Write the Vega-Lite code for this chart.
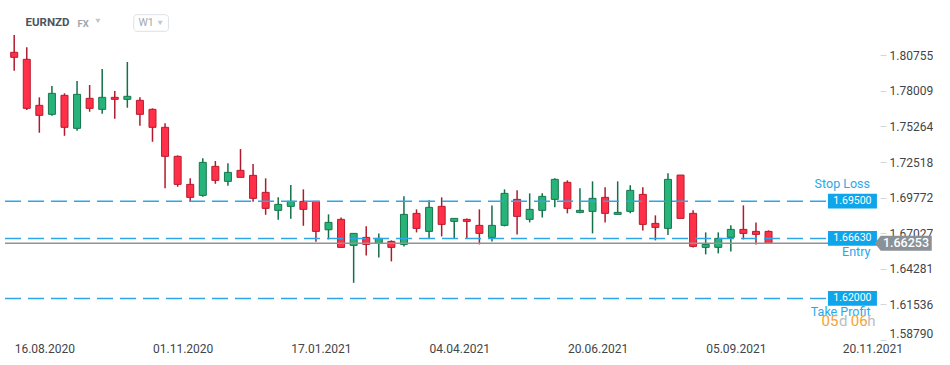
{
  "$schema": "https://vega.github.io/schema/vega-lite/v6.json",
  "width": 880,
  "height": 340,
  "padding": 0,
  "background": "white",
  "config": {"view": {"stroke": null}, "font": "Roboto"},
  "datasets": {
    "candles": [
      {"date": "2020-08-16", "open": 1.80987, "high": 1.82322, "low": 1.79566, "close": 1.80601},
      {"date": "2020-08-23", "open": 1.80446, "high": 1.81373, "low": 1.76533, "close": 1.76664},
      {"date": "2020-08-30", "open": 1.76896, "high": 1.77513, "low": 1.74781, "close": 1.76124},
      {"date": "2020-09-06", "open": 1.76201, "high": 1.78385, "low": 1.76093, "close": 1.77822},
      {"date": "2020-09-13", "open": 1.77668, "high": 1.77822, "low": 1.74549, "close": 1.75198},
      {"date": "2020-09-20", "open": 1.75121, "high": 1.78771, "low": 1.74935, "close": 1.77745},
      {"date": "2020-09-27", "open": 1.77436, "high": 1.78463, "low": 1.76402, "close": 1.76664},
      {"date": "2020-10-04", "open": 1.76587, "high": 1.79698, "low": 1.76248, "close": 1.77513},
      {"date": "2020-10-11", "open": 1.77513, "high": 1.78000, "low": 1.75862, "close": 1.77359},
      {"date": "2020-10-18", "open": 1.77359, "high": 1.80238, "low": 1.76711, "close": 1.77591},
      {"date": "2020-10-25", "open": 1.77282, "high": 1.77513, "low": 1.75321, "close": 1.76201},
      {"date": "2020-11-01", "open": 1.76587, "high": 1.76664, "low": 1.74086, "close": 1.75198},
      {"date": "2020-11-08", "open": 1.75198, "high": 1.75507, "low": 1.70490, "close": 1.72960},
      {"date": "2020-11-15", "open": 1.72960, "high": 1.73037, "low": 1.70613, "close": 1.70798},
      {"date": "2020-11-22", "open": 1.70798, "high": 1.71261, "low": 1.69455, "close": 1.69795},
      {"date": "2020-11-29", "open": 1.69949, "high": 1.72805, "low": 1.69841, "close": 1.72496},
      {"date": "2020-12-06", "open": 1.72188, "high": 1.72597, "low": 1.70845, "close": 1.71107},
      {"date": "2020-12-13", "open": 1.71030, "high": 1.72419, "low": 1.70690, "close": 1.71725},
      {"date": "2020-12-20", "open": 1.71879, "high": 1.73523, "low": 1.71339, "close": 1.71339},
      {"date": "2020-12-27", "open": 1.71493, "high": 1.72365, "low": 1.69455, "close": 1.69718},
      {"date": "2021-01-03", "open": 1.70181, "high": 1.71261, "low": 1.68452, "close": 1.68946},
      {"date": "2021-01-10", "open": 1.68792, "high": 1.69795, "low": 1.68066, "close": 1.69255},
      {"date": "2021-01-17", "open": 1.69100, "high": 1.70744, "low": 1.68143, "close": 1.69486},
      {"date": "2021-01-24", "open": 1.69486, "high": 1.70412, "low": 1.67603, "close": 1.68869},
      {"date": "2021-01-31", "open": 1.69486, "high": 1.69486, "low": 1.66368, "close": 1.67171},
      {"date": "2021-02-07", "open": 1.67294, "high": 1.68483, "low": 1.66553, "close": 1.67865},
      {"date": "2021-02-14", "open": 1.68097, "high": 1.68251, "low": 1.65936, "close": 1.65936},
      {"date": "2021-02-21", "open": 1.66090, "high": 1.67016, "low": 1.63203, "close": 1.67016},
      {"date": "2021-02-28", "open": 1.66708, "high": 1.67557, "low": 1.65318, "close": 1.66167},
      {"date": "2021-03-07", "open": 1.66244, "high": 1.67016, "low": 1.65164, "close": 1.66630},
      {"date": "2021-03-14", "open": 1.66399, "high": 1.66476, "low": 1.64855, "close": 1.65936},
      {"date": "2021-03-21", "open": 1.66167, "high": 1.69872, "low": 1.66013, "close": 1.68483},
      {"date": "2021-03-28", "open": 1.68560, "high": 1.68869, "low": 1.67093, "close": 1.67402},
      {"date": "2021-04-04", "open": 1.67171, "high": 1.69563, "low": 1.66630, "close": 1.69023},
      {"date": "2021-04-11", "open": 1.69100, "high": 1.69795, "low": 1.66785, "close": 1.67711},
      {"date": "2021-04-18", "open": 1.67942, "high": 1.68174, "low": 1.66630, "close": 1.68174},
      {"date": "2021-04-25", "open": 1.68097, "high": 1.68174, "low": 1.66630, "close": 1.67942},
      {"date": "2021-05-02", "open": 1.67634, "high": 1.68869, "low": 1.66167, "close": 1.67016},
      {"date": "2021-05-09", "open": 1.66708, "high": 1.69177, "low": 1.66399, "close": 1.67634},
      {"date": "2021-05-16", "open": 1.67634, "high": 1.70412, "low": 1.67557, "close": 1.70104},
      {"date": "2021-05-23", "open": 1.69641, "high": 1.70335, "low": 1.66939, "close": 1.68328},
      {"date": "2021-05-30", "open": 1.68097, "high": 1.70104, "low": 1.67865, "close": 1.68869},
      {"date": "2021-06-06", "open": 1.68792, "high": 1.70104, "low": 1.68251, "close": 1.69872},
      {"date": "2021-06-13", "open": 1.69641, "high": 1.71261, "low": 1.69023, "close": 1.71184},
      {"date": "2021-06-20", "open": 1.70953, "high": 1.71107, "low": 1.68560, "close": 1.68946},
      {"date": "2021-06-27", "open": 1.68637, "high": 1.70490, "low": 1.68560, "close": 1.68792},
      {"date": "2021-07-04", "open": 1.68714, "high": 1.71030, "low": 1.67016, "close": 1.69718},
      {"date": "2021-07-11", "open": 1.69795, "high": 1.70567, "low": 1.67865, "close": 1.68560},
      {"date": "2021-07-18", "open": 1.68483, "high": 1.71030, "low": 1.68483, "close": 1.68637},
      {"date": "2021-07-25", "open": 1.68714, "high": 1.70721, "low": 1.68560, "close": 1.70335},
      {"date": "2021-08-01", "open": 1.70027, "high": 1.70567, "low": 1.67248, "close": 1.67711},
      {"date": "2021-08-08", "open": 1.67788, "high": 1.68406, "low": 1.66476, "close": 1.67479},
      {"date": "2021-08-15", "open": 1.67402, "high": 1.71647, "low": 1.66885, "close": 1.71184},
      {"date": "2021-08-22", "open": 1.71516, "high": 1.71516, "low": 1.68174, "close": 1.68174},
      {"date": "2021-08-29", "open": 1.68560, "high": 1.68792, "low": 1.65936, "close": 1.66013},
      {"date": "2021-09-05", "open": 1.65936, "high": 1.67093, "low": 1.65395, "close": 1.66167},
      {"date": "2021-09-12", "open": 1.65936, "high": 1.67093, "low": 1.65473, "close": 1.66630},
      {"date": "2021-09-19", "open": 1.66708, "high": 1.67634, "low": 1.65627, "close": 1.67325},
      {"date": "2021-09-26", "open": 1.67325, "high": 1.69177, "low": 1.66553, "close": 1.67016},
      {"date": "2021-10-03", "open": 1.67171, "high": 1.67865, "low": 1.66167, "close": 1.66939},
      {"date": "2021-10-10", "open": 1.67171, "high": 1.67248, "low": 1.66253, "close": 1.66253}
    ],
    "levels": [
      {"name": "Stop Loss", "price": 1.695, "label": "1.69500"},
      {"name": "Entry", "price": 1.6663, "label": "1.66630"},
      {"name": "Take Profit", "price": 1.62, "label": "1.62000"}
    ],
    "last": [{"price": 1.66253, "label": "1.66253"}],
    "one": [{}]
  },
  "layer": [
    {
      "data": {"name": "candles"},
      "mark": {"type": "rule", "strokeWidth": 1.5},
      "encoding": {
        "x": {
          "field": "date", "type": "temporal",
          "scale": {"type": "utc", "domain": [
            {"year": 2020, "month": 8, "date": 10, "hours": 21, "minutes": 7, "utc": true},
            {"year": 2021, "month": 12, "date": 8, "hours": 6, "minutes": 30, "utc": true}
          ]},
          "axis": {
            "title": null, "grid": false, "domain": false, "ticks": false,
            "values": [
              {"year": 2020, "month": 8, "date": 16, "utc": true},
              {"year": 2020, "month": 11, "date": 1, "utc": true},
              {"year": 2021, "month": 1, "date": 17, "utc": true},
              {"year": 2021, "month": 4, "date": 4, "utc": true},
              {"year": 2021, "month": 6, "date": 20, "utc": true},
              {"year": 2021, "month": 9, "date": 5, "utc": true},
              {"year": 2021, "month": 11, "date": 20, "utc": true}
            ],
            "format": "%d.%m.%Y", "labelAlign": "left", "labelPadding": 3,
            "labelFontSize": 12, "labelColor": "#3f4549", "labelOverlap": false, "labelFlush": false
          }
        },
        "y": {
          "field": "low", "type": "quantitative",
          "scale": {"domain": [1.5879, 1.85023], "nice": false, "zero": false},
          "axis": {
            "orient": "right", "title": null, "grid": false, "domain": false,
            "values": [1.5879, 1.61536, 1.64281, 1.67027, 1.69772, 1.72518, 1.75264, 1.78009, 1.80755],
            "format": ".5f", "tickSize": 6, "tickColor": "#d3d7db", "labelPadding": 3,
            "labelFontSize": 12, "labelColor": "#3f4549", "labelFlush": true, "labelOverlap": false
          }
        },
        "y2": {"field": "high"},
        "color": {"condition": {"test": "datum.close < datum.open", "value": "#b01a2e"}, "value": "#137048"}
      }
    },
    {
      "data": {"name": "candles"},
      "mark": {"type": "bar", "size": 7, "strokeWidth": 1},
      "encoding": {
        "x": {"field": "date", "type": "temporal"},
        "y": {"field": "open", "type": "quantitative"},
        "y2": {"field": "close"},
        "fill": {"condition": {"test": "datum.close < datum.open", "value": "#ff3048"}, "value": "#27b37a"},
        "stroke": {"condition": {"test": "datum.close < datum.open", "value": "#b81a2e"}, "value": "#15774c"}
      }
    },
    {
      "data": {"name": "last"},
      "mark": {"type": "rule", "color": "#8e959a", "strokeWidth": 1.5},
      "encoding": {
        "x": {"datum": {"year": 2020, "month": 8, "date": 10, "hours": 21, "minutes": 7, "utc": true}, "type": "temporal"},
        "x2": {"datum": {"year": 2021, "month": 12, "date": 8, "hours": 6, "minutes": 30, "utc": true}},
        "y": {"field": "price", "type": "quantitative"}
      }
    },
    {
      "data": {"name": "levels"},
      "mark": {"type": "rule", "color": "#2ea6e6", "strokeWidth": 1.5, "strokeDash": [16, 7]},
      "encoding": {
        "x": {"datum": {"year": 2020, "month": 8, "date": 10, "hours": 21, "minutes": 7, "utc": true}, "type": "temporal"},
        "x2": {"datum": {"year": 2021, "month": 11, "date": 12, "hours": 10, "utc": true}},
        "y": {"field": "price", "type": "quantitative"}
      }
    },
    {
      "data": {"name": "levels"},
      "mark": {"type": "point", "shape": "M-1,-0.3H1V0.3H-1Z", "size": 2401, "filled": true, "opacity": 1, "color": "#0ea5eb", "strokeWidth": 0},
      "encoding": {
        "x": {"datum": {"year": 2021, "month": 11, "date": 25, "hours": 17, "utc": true}, "type": "temporal"},
        "y": {"field": "price", "type": "quantitative"}
      }
    },
    {
      "data": {"name": "levels"},
      "mark": {"type": "text", "color": "white", "fontSize": 10.5, "align": "center", "baseline": "middle"},
      "encoding": {
        "x": {"datum": {"year": 2021, "month": 11, "date": 25, "hours": 17, "utc": true}, "type": "temporal"},
        "y": {"field": "price", "type": "quantitative"},
        "text": {"field": "label"}
      }
    },
    {
      "data": {"name": "levels"},
      "transform": [{"filter": "datum.name == 'Stop Loss'"}],
      "mark": {"type": "text", "color": "#2aa7e6", "fontSize": 12.5, "align": "right", "baseline": "middle", "dy": -17},
      "encoding": {
        "x": {"datum": {"year": 2021, "month": 12, "date": 5, "hours": 12, "utc": true}, "type": "temporal"},
        "y": {"field": "price", "type": "quantitative"},
        "text": {"field": "name"}
      }
    },
    {
      "data": {"name": "levels"},
      "transform": [{"filter": "datum.name != 'Stop Loss'"}],
      "mark": {"type": "text", "color": "#2aa7e6", "fontSize": 12.5, "align": "right", "baseline": "middle", "dy": 13.5},
      "encoding": {
        "x": {"datum": {"year": 2021, "month": 12, "date": 5, "hours": 18, "utc": true}, "type": "temporal"},
        "y": {"field": "price", "type": "quantitative"},
        "text": {"field": "name"}
      }
    },
    {
      "data": {"name": "last"},
      "mark": {"type": "point", "shape": "M-1,0L-0.79,-0.263H1V0.263H-0.79Z", "size": 3249, "filled": true, "opacity": 1, "color": "#8a9297", "strokeWidth": 0},
      "encoding": {
        "x": {"datum": {"year": 2021, "month": 12, "date": 24, "utc": true}, "type": "temporal"},
        "y": {"field": "price", "type": "quantitative"}
      }
    },
    {
      "data": {"name": "last"},
      "mark": {"type": "text", "color": "white", "fontSize": 12.5, "fontWeight": 500, "align": "center", "baseline": "middle"},
      "encoding": {
        "x": {"datum": {"year": 2021, "month": 12, "date": 25, "hours": 12, "utc": true}, "type": "temporal"},
        "y": {"field": "price", "type": "quantitative"},
        "text": {"field": "label"}
      }
    },
    {
      "data": {"name": "one"},
      "mark": {"type": "text", "text": "05", "color": "#f7a12c", "fontSize": 15, "align": "left", "baseline": "middle"},
      "encoding": {
        "x": {"datum": {"year": 2021, "month": 11, "date": 8, "hours": 13, "utc": true}, "type": "temporal"},
        "y": {"datum": 1.6026, "type": "quantitative"}
      }
    },
    {
      "data": {"name": "one"},
      "mark": {"type": "text", "text": "d", "color": "#b9bdc1", "fontSize": 15, "align": "left", "baseline": "middle"},
      "encoding": {
        "x": {"datum": {"year": 2021, "month": 11, "date": 18, "hours": 5, "utc": true}, "type": "temporal"},
        "y": {"datum": 1.6026, "type": "quantitative"}
      }
    },
    {
      "data": {"name": "one"},
      "mark": {"type": "text", "text": "06", "color": "#f7a12c", "fontSize": 15, "align": "left", "baseline": "middle"},
      "encoding": {
        "x": {"datum": {"year": 2021, "month": 11, "date": 24, "hours": 19, "utc": true}, "type": "temporal"},
        "y": {"datum": 1.6026, "type": "quantitative"}
      }
    },
    {
      "data": {"name": "one"},
      "mark": {"type": "text", "text": "h", "color": "#b9bdc1", "fontSize": 15, "align": "left", "baseline": "middle"},
      "encoding": {
        "x": {"datum": {"year": 2021, "month": 12, "date": 3, "hours": 22, "utc": true}, "type": "temporal"},
        "y": {"datum": 1.6026, "type": "quantitative"}
      }
    },
    {
      "data": {"name": "one"},
      "mark": {"type": "text", "text": "EURNZD", "color": "#4a555f", "fontSize": 11.5, "fontWeight": "bold", "align": "left", "baseline": "middle"},
      "encoding": {
        "x": {"datum": {"year": 2020, "month": 8, "date": 22, "hours": 7, "utc": true}, "type": "temporal"},
        "y": {"datum": 1.83249, "type": "quantitative"}
      }
    },
    {
      "data": {"name": "one"},
      "mark": {"type": "text", "text": "FX", "color": "#9ea7ae", "fontSize": 9.5, "fontWeight": "bold", "align": "left", "baseline": "middle"},
      "encoding": {
        "x": {"datum": {"year": 2020, "month": 9, "date": 20, "hours": 5, "utc": true}, "type": "temporal"},
        "y": {"datum": 1.83171, "type": "quantitative"}
      }
    },
    {
      "data": {"name": "one"},
      "mark": {"type": "rect", "fill": "white", "stroke": "#dde1e5", "strokeWidth": 1, "cornerRadius": 3},
      "encoding": {
        "x": {"datum": {"year": 2020, "month": 10, "date": 21, "hours": 14, "utc": true}, "type": "temporal"},
        "x2": {"datum": {"year": 2020, "month": 11, "date": 9, "hours": 21, "utc": true}},
        "y": {"datum": 1.83889, "type": "quantitative"},
        "y2": {"datum": 1.82608}
      }
    },
    {
      "data": {"name": "one"},
      "mark": {"type": "text", "text": "W1", "color": "#9ea7ae", "fontSize": 10.5, "align": "left", "baseline": "middle"},
      "encoding": {
        "x": {"datum": {"year": 2020, "month": 10, "date": 24, "hours": 5, "utc": true}, "type": "temporal"},
        "y": {"datum": 1.83249, "type": "quantitative"}
      }
    },
    {
      "data": {"name": "one"},
      "mark": {"type": "point", "shape": "triangle-down", "size": 28, "filled": true, "opacity": 1, "color": "#c3c9ce"},
      "encoding": {
        "x": {"datum": {"year": 2020, "month": 10, "date": 1, "hours": 15, "utc": true}, "type": "temporal"},
        "y": {"datum": 1.83403, "type": "quantitative"}
      }
    },
    {
      "data": {"name": "one"},
      "mark": {"type": "point", "shape": "triangle-down", "size": 28, "filled": true, "opacity": 1, "color": "#c3c9ce"},
      "encoding": {
        "x": {"datum": {"year": 2020, "month": 11, "date": 5, "hours": 7, "utc": true}, "type": "temporal"},
        "y": {"datum": 1.83249, "type": "quantitative"}
      }
    }
  ]
}
